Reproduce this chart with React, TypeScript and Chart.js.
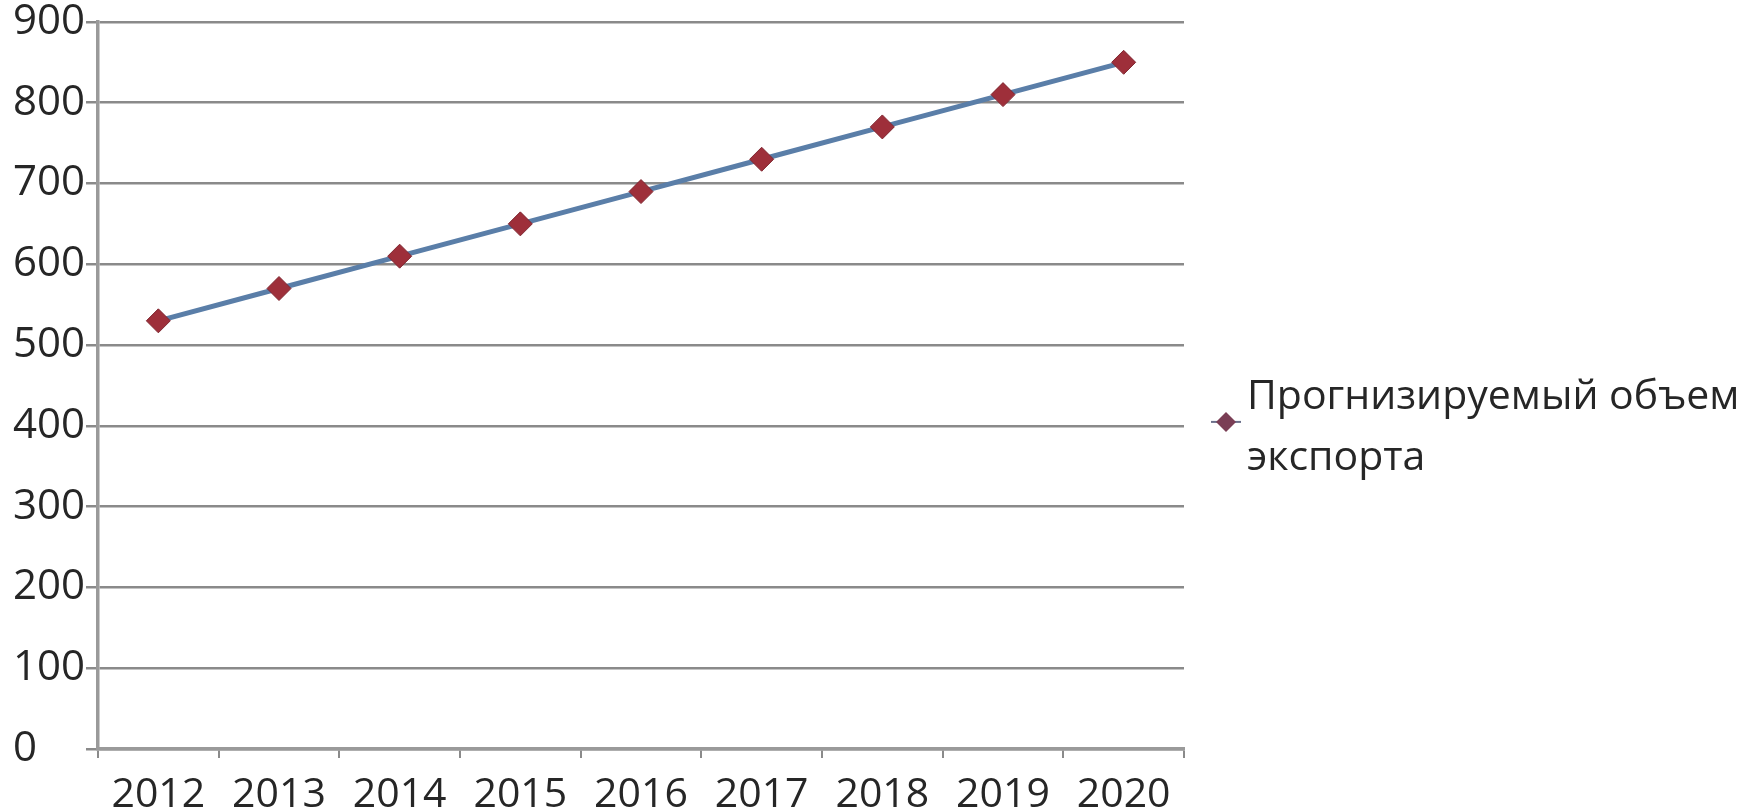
import React, { useEffect, useRef } from "react";
import { Chart, registerables } from "chart.js";

Chart.register(...registerables);

const years = ["2012", "2013", "2014", "2015", "2016", "2017", "2018", "2019", "2020"];
const exportVolume = [530, 570, 610, 650, 690, 730, 770, 810, 850];
const legendLines = ["Прогнизируемый объем", "экспорта"];
const yTicks = [0, 100, 200, 300, 400, 500, 600, 700, 800, 900];

const FONT = "'Open Sans', 'DejaVu Sans', sans-serif";
const TEXT = "#262626";
const GRID = "#8a8a8a";
const AXIS = "#9a9a9a";
const LINE = "#5a7ea8";
const MARKER = "#9e2f3a";

const legendPlugin = {
  id: "sideLegend",
  afterDraw(chart: any) {
    const ctx = chart.ctx;
    const area = chart.chartArea;
    const mx = area.right + 42;
    const my = area.top + 400;
    ctx.save();
    ctx.strokeStyle = "#6a6f8a";
    ctx.lineWidth = 2;
    ctx.beginPath();
    ctx.moveTo(mx - 15, my);
    ctx.lineTo(mx + 15, my);
    ctx.stroke();
    ctx.fillStyle = "#7a3e55";
    ctx.beginPath();
    const r = 10;
    ctx.moveTo(mx, my - r);
    ctx.lineTo(mx + r, my);
    ctx.lineTo(mx, my + r);
    ctx.lineTo(mx - r, my);
    ctx.closePath();
    ctx.fill();
    ctx.fillStyle = TEXT;
    ctx.font = `41px ${FONT}`;
    ctx.textBaseline = "alphabetic";
    ctx.textAlign = "left";
    legendLines.forEach((t, i) => {
      ctx.fillText(t, area.right + 63, area.top + 387 + i * 61);
    });
    ctx.restore();
  },
};

export default function App() {
  const ref = useRef<HTMLCanvasElement | null>(null);
  useEffect(() => {
    if (!ref.current) return;
    const chart = new Chart(ref.current, {
      type: "line",
      data: {
        labels: years,
        datasets: [
          {
            label: legendLines.join(" "),
            data: exportVolume,
            borderColor: LINE,
            borderWidth: 5,
            backgroundColor: MARKER,
            pointStyle: "rectRot",
            pointRadius: 12,
            pointBorderColor: "#7f2630",
            pointBorderWidth: 1,
            tension: 0,
          },
        ],
      },
      options: {
        animation: false,
        responsive: true,
        maintainAspectRatio: false,
        layout: { padding: { left: 13, top: 20, right: 579, bottom: 0 } },
        plugins: { legend: { display: false }, tooltip: { enabled: false } },
        scales: {
          x: {
            offset: true,
            grid: {
              offset: true,
              drawOnChartArea: false,
              drawTicks: true,
              tickLength: 9,
              color: GRID,
              lineWidth: 2,
            },
            border: { display: true, color: AXIS, width: 3.5 },
            ticks: {
              color: TEXT,
              font: { family: FONT, size: 41 },
              padding: 13,
              maxRotation: 0,
              autoSkip: false,
            },
            afterFit(scale: any) {
              scale.height = 62;
            },
          },
          y: {
            min: 0,
            max: 900,
            afterBuildTicks(scale: any) {
              scale.ticks = yTicks.map((v) => ({ value: v }));
            },
            grid: {
              color: GRID,
              lineWidth: 2.5,
              tickLength: 12,
              drawTicks: true,
            },
            border: { display: true, color: AXIS, width: 3.5 },
            ticks: {
              color: TEXT,
              font: { family: FONT, size: 42, lineHeight: 0.9 },
              padding: 3,
              crossAlign: "far",
            },
            afterFit(scale: any) {
              scale.width = 85;
            },
          },
        },
      },
      plugins: [legendPlugin],
    });
    return () => chart.destroy();
  }, []);
  return (
    <div style={{ position: "fixed", left: 0, top: 0, width: "100vw", height: "100vh", background: "#fff" }}>
      <canvas ref={ref} />
    </div>
  );
}
